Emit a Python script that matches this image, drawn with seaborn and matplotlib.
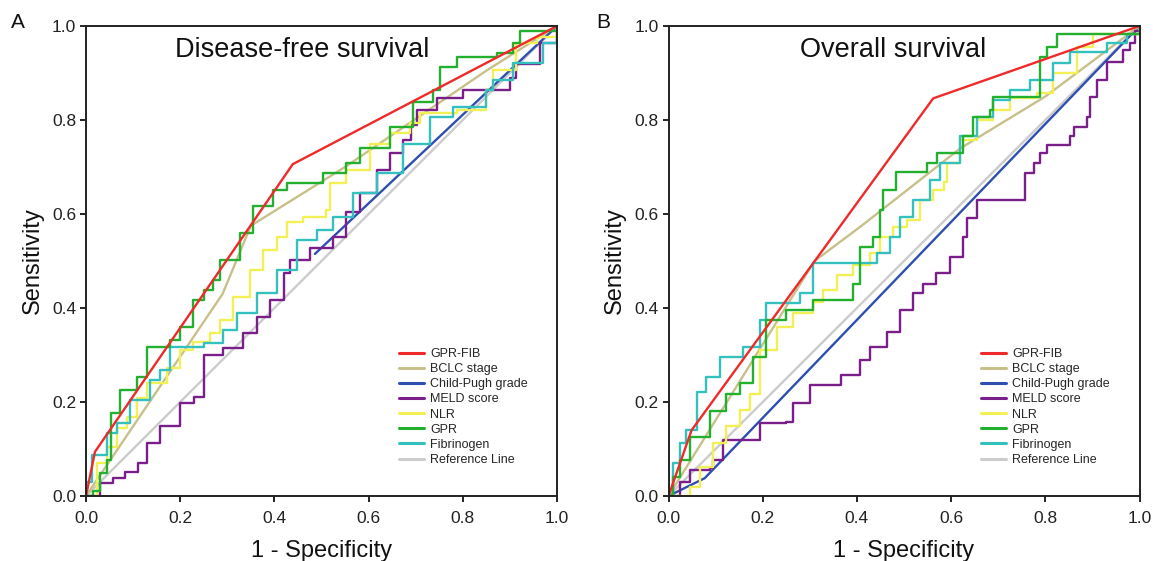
import matplotlib
matplotlib.use("Agg")
import matplotlib.pyplot as plt
import seaborn as sns
import pandas as pd

sns.set_theme(style="white")
plt.rcParams['font.family'] = ['Liberation Sans', 'DejaVu Sans']

labels = ["GPR-FIB", "BCLC stage", "Child-Pugh grade", "MELD score", "NLR", "GPR", "Fibrinogen", "Reference Line"]
colors = ["#ee2a2a", "#c8c08a", "#2f4fb0", "#7a1f8a", "#f2f055", "#22b02e", "#35c0c0", "#cccccc"]
steps = [False, False, False, True, True, True, True, False]

# ---------------- Panel A: Disease-free survival ----------------
a_fib_x = [0, 0.019, 0.439, 1.0]
a_fib_y = [0, 0.094, 0.706, 1.0]
a_bclc_x = [0, 0.29, 0.35, 0.55, 0.85, 1.0]
a_bclc_y = [0, 0.43, 0.575, 0.70, 0.905, 1.0]
a_cp_x = [0.486, 1.0]
a_cp_y = [0.515, 1.0]
a_meld_x = [0, 0.01, 0.03, 0.058, 0.083, 0.11, 0.129, 0.157, 0.20, 0.23, 0.25, 0.29, 0.334, 0.362, 0.39, 0.42, 0.433, 0.476, 0.525, 0.553, 0.582, 0.617, 0.645, 0.674, 0.691, 0.702, 0.745, 0.80, 0.85, 0.90, 0.914, 0.964, 1.0]
a_meld_y = [0, 0.0, 0.027, 0.038, 0.052, 0.07, 0.112, 0.148, 0.197, 0.21, 0.30, 0.314, 0.346, 0.38, 0.417, 0.474, 0.502, 0.527, 0.552, 0.605, 0.644, 0.694, 0.729, 0.757, 0.789, 0.821, 0.846, 0.864, 0.864, 0.89, 0.92, 0.963, 1.0]
a_nlr_x = [0, 0.023, 0.044, 0.065, 0.086, 0.108, 0.129, 0.171, 0.20, 0.228, 0.263, 0.285, 0.313, 0.348, 0.376, 0.405, 0.426, 0.461, 0.51, 0.518, 0.553, 0.603, 0.645, 0.688, 0.709, 0.787, 0.85, 0.865, 0.914, 0.957, 1.0]
a_nlr_y = [0, 0.07, 0.105, 0.144, 0.169, 0.208, 0.24, 0.272, 0.31, 0.328, 0.346, 0.374, 0.424, 0.48, 0.523, 0.552, 0.584, 0.594, 0.608, 0.665, 0.694, 0.75, 0.772, 0.793, 0.814, 0.821, 0.864, 0.906, 0.963, 0.977, 1.0]
a_gpr_x = [0, 0.015, 0.03, 0.044, 0.054, 0.072, 0.108, 0.129, 0.178, 0.20, 0.228, 0.25, 0.27, 0.285, 0.327, 0.355, 0.398, 0.426, 0.504, 0.553, 0.582, 0.645, 0.695, 0.737, 0.752, 0.787, 0.872, 0.907, 0.921, 1.0]
a_gpr_y = [0, 0.01, 0.048, 0.077, 0.176, 0.226, 0.254, 0.318, 0.332, 0.36, 0.417, 0.438, 0.46, 0.502, 0.559, 0.616, 0.651, 0.665, 0.687, 0.708, 0.74, 0.786, 0.839, 0.864, 0.913, 0.935, 0.942, 0.963, 0.99, 1.0]
a_fg_x = [0, 0.012, 0.037, 0.044, 0.065, 0.093, 0.136, 0.157, 0.178, 0.25, 0.29, 0.32, 0.362, 0.405, 0.447, 0.49, 0.525, 0.567, 0.617, 0.674, 0.73, 0.78, 0.85, 0.865, 0.907, 0.97, 1.0]
a_fg_y = [0.03, 0.087, 0.087, 0.133, 0.155, 0.204, 0.247, 0.268, 0.318, 0.325, 0.353, 0.389, 0.431, 0.481, 0.545, 0.566, 0.594, 0.644, 0.687, 0.75, 0.807, 0.828, 0.864, 0.885, 0.921, 0.963, 0.98]
ref_x = [0, 1.0]
ref_y = [0, 1.0]

# ---------------- Panel B: Overall survival ----------------
b_fib_x = [0, 0.049, 0.562, 1.0]
b_fib_y = [0, 0.14, 0.846, 1.0]
b_bclc_x = [0, 0.31, 0.41, 0.62, 0.80, 1.0]
b_bclc_y = [0, 0.50, 0.575, 0.74, 0.85, 1.0]
b_cp_x = [0, 0.077, 1.0]
b_cp_y = [0, 0.038, 1.0]
b_meld_x = [0, 0.024, 0.045, 0.088, 0.095, 0.116, 0.173, 0.194, 0.25, 0.265, 0.30, 0.367, 0.406, 0.428, 0.463, 0.491, 0.52, 0.541, 0.569, 0.598, 0.626, 0.633, 0.654, 0.754, 0.757, 0.775, 0.789, 0.803, 0.853, 0.86, 0.888, 0.895, 0.909, 0.931, 0.966, 0.98, 0.99, 1.0]
b_meld_y = [0, 0.03, 0.055, 0.059, 0.077, 0.119, 0.119, 0.155, 0.158, 0.197, 0.236, 0.257, 0.289, 0.318, 0.35, 0.396, 0.431, 0.452, 0.474, 0.509, 0.552, 0.591, 0.63, 0.63, 0.687, 0.708, 0.729, 0.747, 0.765, 0.786, 0.807, 0.85, 0.885, 0.924, 0.949, 0.963, 0.99, 1.0]
b_nlr_x = [0, 0.045, 0.067, 0.095, 0.123, 0.152, 0.173, 0.194, 0.23, 0.265, 0.307, 0.329, 0.357, 0.392, 0.428, 0.449, 0.477, 0.506, 0.534, 0.562, 0.584, 0.591, 0.619, 0.654, 0.69, 0.725, 0.782, 0.817, 0.867, 0.902, 1.0]
b_nlr_y = [0, 0.02, 0.062, 0.112, 0.148, 0.183, 0.218, 0.31, 0.36, 0.389, 0.413, 0.438, 0.47, 0.491, 0.516, 0.552, 0.573, 0.587, 0.63, 0.651, 0.669, 0.708, 0.757, 0.80, 0.821, 0.846, 0.857, 0.90, 0.956, 0.984, 1.0]
b_gpr_x = [0, 0.01, 0.024, 0.045, 0.088, 0.123, 0.152, 0.18, 0.208, 0.25, 0.307, 0.392, 0.406, 0.435, 0.449, 0.456, 0.484, 0.548, 0.57, 0.626, 0.647, 0.683, 0.69, 0.789, 0.803, 0.824, 1.0]
b_gpr_y = [0, 0.04, 0.077, 0.126, 0.18, 0.218, 0.24, 0.296, 0.374, 0.396, 0.417, 0.452, 0.53, 0.552, 0.609, 0.651, 0.69, 0.708, 0.729, 0.765, 0.807, 0.821, 0.85, 0.935, 0.956, 0.984, 1.0]
b_fg_x = [0, 0.01, 0.024, 0.038, 0.06, 0.08, 0.109, 0.159, 0.194, 0.208, 0.279, 0.307, 0.442, 0.47, 0.491, 0.52, 0.555, 0.576, 0.619, 0.654, 0.69, 0.725, 0.768, 0.817, 0.853, 0.931, 0.973, 1.0]
b_fg_y = [0, 0.07, 0.112, 0.14, 0.222, 0.254, 0.296, 0.318, 0.374, 0.41, 0.431, 0.495, 0.516, 0.552, 0.594, 0.63, 0.672, 0.708, 0.765, 0.807, 0.842, 0.864, 0.885, 0.921, 0.945, 0.963, 0.984, 1.0]

panels = [
    ("A", "Disease-free survival",
     [(a_fib_x, a_fib_y), (a_bclc_x, a_bclc_y), (a_cp_x, a_cp_y), (a_meld_x, a_meld_y),
      (a_nlr_x, a_nlr_y), (a_gpr_x, a_gpr_y), (a_fg_x, a_fg_y), (ref_x, ref_y)]),
    ("B", "Overall survival",
     [(b_fib_x, b_fib_y), (b_bclc_x, b_bclc_y), (b_cp_x, b_cp_y), (b_meld_x, b_meld_y),
      (b_nlr_x, b_nlr_y), (b_gpr_x, b_gpr_y), (b_fg_x, b_fg_y), (ref_x, ref_y)]),
]

ticks = [0.0, 0.2, 0.4, 0.6, 0.8, 1.0]
tick_labels = ["0.0", "0.2", "0.4", "0.6", "0.8", "1.0"]

fig = plt.figure(figsize=(11.53, 5.61), dpi=100)
lefts = [86 / 1153, 668.5 / 1153]
letter_x = [11 / 1153, 596 / 1153]
title_x = [0.459, 0.476]

draw_order = [7, 2, 1, 3, 4, 6, 5, 0]

for pi, (letter, title, series) in enumerate(panels):
    ax = fig.add_axes([lefts[pi], 1 - 496 / 561, 471 / 1153, 470 / 561])
    handles = {}
    for i in draw_order:
        xs, ys = series[i]
        df = pd.DataFrame({"x": xs, "y": ys})
        sns.lineplot(data=df, x="x", y="y", ax=ax, color=colors[i], lw=1.7,
                     drawstyle="steps-post" if steps[i] else "default",
                     sort=False, estimator=None, errorbar=None)
        handles[i] = ax.lines[-1]
    ax.set_xlim(0, 1)
    ax.set_ylim(0, 1)
    ax.set_xticks(ticks)
    ax.set_xticklabels(tick_labels)
    ax.set_yticks(ticks)
    ax.set_yticklabels(tick_labels)
    ax.tick_params(axis="x", pad=7)
    ax.tick_params(axis="y", pad=3)
    ax.tick_params(axis="both", direction="out", length=4, width=1.2, color="black",
                   labelsize=12.5, labelcolor="#222222", bottom=True, left=True)
    for s in ax.spines.values():
        s.set_color("#222222")
        s.set_linewidth(1.4)
    ax.set_xlabel("1 - Specificity", fontsize=17, labelpad=10, color="#111111")
    ax.set_ylabel("Sensitivity", fontsize=17, labelpad=6, color="#111111")
    ax.text(title_x[pi], 0.949, title, transform=ax.transAxes, ha="center", va="center",
            fontsize=19.5, color="#111111")
    fig.text(letter_x[pi], 0.96, letter, fontsize=15, ha="left", va="center", color="#111111")
    leg = ax.legend([handles[i] for i in range(8)], labels, loc="lower left",
                    bbox_to_anchor=(0.64, 0.04), frameon=False, fontsize=9,
                    handlelength=2.0, handletextpad=0.5, labelspacing=0.25)
    for h in leg.get_lines():
        h.set_linewidth(2.2)

fig.savefig("out.png", dpi=100)
